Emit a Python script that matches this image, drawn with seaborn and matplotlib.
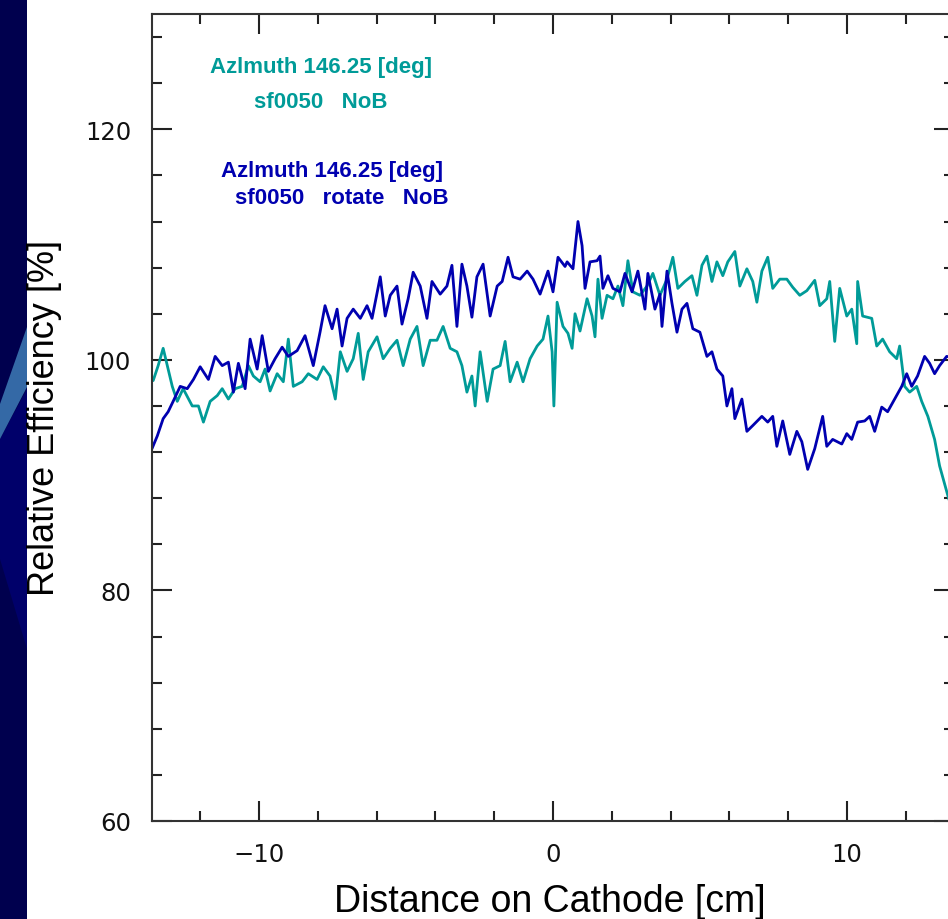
import matplotlib
matplotlib.use("Agg")
import matplotlib.pyplot as plt
from matplotlib.patches import Polygon, Rectangle
from matplotlib.ticker import MultipleLocator
import seaborn as sns
import pandas as pd
import numpy as np

# ---- data ----
rot_x = [-13.65, -13.47, -13.27, -13.10, -12.93, -12.69, -12.45, -12.24, -12.01, -11.73,
         -11.50, -11.26, -11.05, -10.88, -10.71, -10.48, -10.31, -10.07, -9.90, -9.69,
         -9.46, -9.22, -9.01, -8.71, -8.44, -8.16, -7.93, -7.76, -7.52, -7.35,
         -7.18, -7.01, -6.80, -6.56, -6.33, -6.16, -5.88, -5.71, -5.54, -5.31,
         -5.14, -4.93, -4.76, -4.52, -4.29, -4.12, -3.84, -3.61, -3.44, -3.27,
         -3.10, -2.93, -2.76, -2.59, -2.38, -2.14, -1.90, -1.73, -1.53, -1.36,
         -1.12, -0.88, -0.68, -0.44, -0.17, 0.00, 0.17, 0.41,
         0.48, 0.68, 0.85, 0.99, 1.09, 1.26, 1.50, 1.60, 1.70, 1.87,
         2.04, 2.28, 2.45, 2.69, 2.89, 3.13, 3.23, 3.47, 3.64, 3.71,
         3.88, 4.05, 4.22, 4.39, 4.56, 4.76, 5.00, 5.24, 5.41, 5.58,
         5.78, 5.92, 6.09, 6.19, 6.43, 6.60, 6.80, 7.11, 7.31, 7.48,
         7.62, 7.82, 8.06, 8.30, 8.47, 8.67, 8.91, 9.18, 9.32, 9.52,
         9.83, 10.00, 10.17, 10.37, 10.61, 10.78, 10.95, 11.19, 11.39, 11.63,
         11.87, 12.04, 12.21, 12.41, 12.65, 12.82, 12.99, 13.16, 13.40, 13.65]
rot_y = [92.3, 93.4, 94.9, 95.5, 96.4, 97.7, 97.5, 98.3, 99.4, 98.3,
         100.3, 99.5, 99.8, 97.2, 99.7, 97.5, 101.8, 99.2, 102.1, 99.0,
         100.1, 101.1, 100.3, 100.8, 102.1, 99.5, 102.4, 104.7, 102.7, 104.4,
         101.2, 103.6, 104.4, 103.6, 104.7, 103.6, 107.2, 103.8, 105.6, 106.4,
         103.1, 105.3, 107.6, 106.4, 103.6, 106.8, 105.7, 106.4, 108.2, 102.9,
         108.3, 106.4, 103.7, 107.2, 108.3, 103.8, 106.4, 106.8, 108.9, 107.2,
         107.0, 107.7, 107.0, 105.7, 107.7, 105.9, 108.9, 108.1,
         108.5, 107.9, 112.0, 109.9, 106.2, 108.5, 108.6, 109.0, 106.2, 107.3,
         106.2, 105.9, 107.5, 105.9, 107.7, 104.4, 107.5, 104.4, 105.7, 102.9,
         107.7, 104.9, 102.4, 104.4, 104.9, 102.7, 102.4, 100.3, 100.7, 99.2,
         98.6, 96.0, 97.5, 94.9, 96.6, 93.8, 94.3, 95.1, 94.6, 95.1,
         92.5, 94.7, 91.8, 93.8, 92.9, 90.5, 92.3, 95.1, 92.5, 93.1,
         92.7, 93.6, 93.1, 94.6, 94.7, 95.1, 93.8, 95.9, 95.5, 96.6,
         97.7, 98.8, 97.7, 98.6, 100.3, 99.7, 98.8, 99.5, 100.3, 100.2]

nob_x = [-13.61, -13.44, -13.27, -13.13, -12.96, -12.79, -12.59, -12.28, -12.07, -11.90,
         -11.67, -11.43, -11.26, -11.05, -10.82, -10.58, -10.37, -10.20, -9.97, -9.80,
         -9.63, -9.39, -9.18, -9.01, -8.84, -8.54, -8.33, -8.03, -7.82, -7.59,
         -7.41, -7.24, -7.01, -6.80, -6.63, -6.46, -6.29, -5.99, -5.78, -5.54,
         -5.31, -5.10, -4.86, -4.63, -4.42, -4.18, -3.95, -3.74, -3.50, -3.27,
         -3.10, -2.93, -2.76, -2.65, -2.48, -2.24, -2.04, -1.80, -1.63, -1.46,
         -1.22, -1.02, -0.78, -0.54, -0.34, -0.17, -0.03, 0.03, 0.14, 0.34, 0.51,
         0.65, 0.75, 0.92, 1.16, 1.33, 1.43, 1.53, 1.67, 1.84, 2.04,
         2.21, 2.38, 2.55, 2.72, 2.96, 3.20, 3.40, 3.64, 3.88, 4.08,
         4.25, 4.49, 4.73, 4.90, 5.07, 5.24, 5.41, 5.58, 5.78, 5.95,
         6.19, 6.36, 6.60, 6.80, 6.94, 7.11, 7.31, 7.48, 7.72, 7.96,
         8.16, 8.40, 8.64, 8.91, 9.08, 9.32, 9.42, 9.59, 9.76, 10.00,
         10.17, 10.34, 10.37, 10.54, 10.85, 11.02, 11.22, 11.46, 11.70, 11.80,
         11.97, 12.14, 12.38, 12.55, 12.76, 12.99, 13.16, 13.40, 13.65]
nob_y = [98.2, 99.5, 101.0, 99.5, 97.7, 96.4, 97.5, 96.0, 96.0, 94.6,
         96.4, 96.9, 97.5, 96.6, 97.5, 97.7, 99.5, 98.6, 98.1, 99.2,
         97.3, 98.8, 98.1, 101.8, 97.7, 98.1, 98.8, 98.3, 99.4, 98.6,
         96.6, 100.7, 99.0, 100.1, 102.3, 98.3, 100.7, 102.0, 100.1, 101.0,
         101.7, 99.5, 101.8, 102.9, 99.5, 101.7, 101.7, 102.9, 101.0, 100.7,
         99.5, 97.2, 98.6, 96.0, 100.7, 96.4, 99.2, 99.5, 101.6, 98.1,
         99.8, 98.1, 100.1, 101.2, 101.8, 103.8, 100.7, 96.0, 105.0, 102.9, 102.3,
         101.0, 104.0, 102.5, 105.3, 103.8, 102.0, 107.0, 103.6, 105.6, 105.3,
         106.4, 104.7, 108.6, 105.9, 105.6, 106.4, 107.5, 105.6, 107.0, 108.9,
         106.2, 106.8, 107.3, 105.6, 108.2, 109.0, 106.8, 108.5, 107.3, 108.5,
         109.4, 106.4, 107.9, 106.8, 105.0, 107.7, 108.9, 106.2, 107.0, 107.0,
         106.3, 105.6, 106.0, 106.9, 104.7, 105.3, 106.8, 101.6, 106.2, 103.8,
         104.4, 101.4, 106.8, 103.8, 103.6, 101.2, 101.8, 100.7, 100.1, 101.2,
         97.7, 97.2, 97.7, 96.4, 95.1, 93.1, 90.8, 88.6, 86.3]

series_names = ["sf0050 NoB", "sf0050 rotate NoB"]
x_ticks = [-10, 0, 10]
y_ticks = [60, 80, 100, 120]

TEAL = "#009B98"
BLUE = "#0000B0"

df = pd.concat([
    pd.DataFrame({"x": nob_x, "y": nob_y, "series": series_names[0]}),
    pd.DataFrame({"x": rot_x, "y": rot_y, "series": series_names[1]}),
], ignore_index=True)

sns.set_theme(style="ticks")
plt.rcParams["font.family"] = ["Liberation Sans", "DejaVu Sans"]

W, H = 948, 920
fig = plt.figure(figsize=(W / 100, H / 100), dpi=100)
fig.patch.set_facecolor("white")

def fx(px):
    return px / W

def fy(py):
    return 1 - py / H

# decorative dark-blue strip on the left edge
fig.patches.append(Rectangle((0, 0), fx(27), 1, transform=fig.transFigure,
                             facecolor="#00004E", edgecolor="none", zorder=0))
fig.patches.append(Polygon([(fx(0), fy(440)), (fx(27), fy(390)), (fx(27), fy(650)), (fx(0), fy(560))],
                           closed=True, transform=fig.transFigure,
                           facecolor="#00006A", edgecolor="none", zorder=0))
fig.patches.append(Polygon([(fx(0), fy(440)), (fx(0), fy(405)), (fx(27), fy(328)), (fx(27), fy(388))],
                           closed=True, transform=fig.transFigure,
                           facecolor="#3469A6", edgecolor="none", zorder=0))

ax = fig.add_axes([152 / W, (H - 822) / H, (954 - 152) / W, (822 - 15) / H])
ax.set_facecolor("white")

sns.lineplot(data=df, x="x", y="y", hue="series", palette=[TEAL, BLUE],
             hue_order=series_names, estimator=None, sort=True,
             linewidth=2.0, legend=False, ax=ax)

ax.set_xlim(-13.65, 13.65)
ax.set_ylim(60, 130)
ax.set_xticks(x_ticks)
ax.set_yticks(y_ticks)
ax.xaxis.set_minor_locator(MultipleLocator(2))
ax.yaxis.set_minor_locator(MultipleLocator(4))
ax.tick_params(which="both", direction="in", top=True, right=True,
               color="#222222", width=1.5)
ax.tick_params(which="major", length=14.5, labelsize=17.5, pad=15)
ax.tick_params(which="minor", length=7.5)
for lab in ax.get_xticklabels() + ax.get_yticklabels():
    lab.set_fontfamily("DejaVu Sans")
    lab.set_color("#111111")
for s in ax.spines.values():
    s.set_linewidth(1.5)
    s.set_color("#333333")
    s.set_visible(True)

ax.set_xlabel("")
ax.set_ylabel("")
fig.text(fx(550), fy(902), "Distance on Cathode [cm]", ha="center", va="center",
         fontsize=27, color="black")
fig.text(fx(45), fy(418), "Relative Efficiency [%]", ha="center", va="center",
         rotation=90, fontsize=26, color="black")

# annotations
ann = dict(transform=fig.transFigure, ha="center", va="center",
           fontsize=16, fontweight="bold")
ax.text(fx(321), fy(68), "Azlmuth 146.25 [deg]", color=TEAL, **ann)
ax.text(fx(321), fy(103), "sf0050   NoB", color=TEAL, **ann)
ax.text(fx(332), fy(171), "Azlmuth 146.25 [deg]", color=BLUE, **ann)
ax.text(fx(342), fy(199), "sf0050   rotate   NoB", color=BLUE, **ann)

fig.savefig("out.png", dpi=100, facecolor=fig.get_facecolor())
